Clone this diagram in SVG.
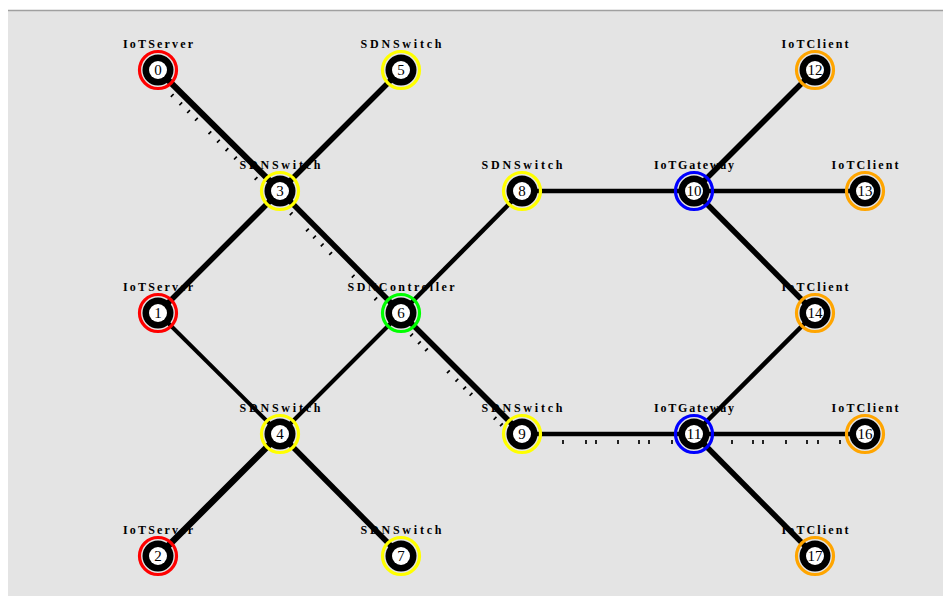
<svg xmlns="http://www.w3.org/2000/svg" width="943" height="596" viewBox="0 0 943 596">
<style>
.e{stroke:#000;fill:none;stroke-linecap:butt}
.t{stroke:#000;stroke-width:1.7;fill:none}
.ring{stroke-width:3.2}
.lbl{font-family:"Liberation Serif",serif;font-size:12px;font-weight:bold;fill:#000;text-anchor:middle}
.num{font-family:"Liberation Serif",serif;font-size:15px;fill:#000;text-anchor:middle}
</style>
<rect x="0" y="0" width="943" height="596" fill="#ffffff"/>
<rect x="8" y="10" width="935" height="586" fill="#e4e4e4"/>
<line x1="8" y1="10.5" x2="943" y2="10.5" stroke="#a0a0a0" stroke-width="1.5"/>
<g id="connectors">
<line class="e" x1="158" y1="70" x2="280" y2="191" stroke-width="6"/>
<line class="e" x1="401" y1="70" x2="280" y2="191" stroke-width="5.5"/>
<line class="e" x1="280" y1="191" x2="158" y2="313" stroke-width="5.5"/>
<line class="e" x1="280" y1="191" x2="401" y2="313" stroke-width="5.5"/>
<line class="e" x1="158" y1="313" x2="280" y2="434" stroke-width="4"/>
<line class="e" x1="401" y1="313" x2="280" y2="434" stroke-width="4"/>
<line class="e" x1="280" y1="434" x2="158" y2="556" stroke-width="6.5"/>
<line class="e" x1="280" y1="434" x2="401" y2="556" stroke-width="5.5"/>
<line class="e" x1="401" y1="313" x2="522" y2="191" stroke-width="4.5"/>
<line class="e" x1="401" y1="313" x2="522" y2="434" stroke-width="5.5"/>
<line class="e" x1="522" y1="191" x2="694" y2="191" stroke-width="4.5"/>
<line class="e" x1="694" y1="191" x2="815" y2="70" stroke-width="5.5"/>
<line class="e" x1="694" y1="191" x2="865" y2="191" stroke-width="4.5"/>
<line class="e" x1="694" y1="191" x2="815" y2="313" stroke-width="5.5"/>
<line class="e" x1="815" y1="313" x2="694" y2="434" stroke-width="4.5"/>
<line class="e" x1="522" y1="434" x2="694" y2="434" stroke-width="4.5"/>
<line class="e" x1="694" y1="434" x2="865" y2="434" stroke-width="4.5"/>
<line class="e" x1="694" y1="434" x2="815" y2="556" stroke-width="5.5"/>
<g transform="translate(158,70) rotate(44.76)"><path class="t" d="M28 6v4M40 6v4M51 6v4M62 6v4M81 6v4M93 6v4M105 6v4M117 6v4M146 6v4"/></g>
<g transform="translate(280,191) rotate(45.24)"><path class="t" d="M24 6v4M47 6v4M57 6v4M68 6v4M80 6v4M112 6v4M144 6v4"/></g>
<g transform="translate(401,313) rotate(45)"><path class="t" d="M23 6v4M34 6v4M44 6v4M75 6v4M87 6v4M98 6v4M107 6v4M141 6v4M150 6v4"/></g>
<g transform="translate(522,434)"><path class="t" d="M41 6v4M64 6v4M74 6v4M96 6v4M117 6v4M127 6v4M150 6v4"/></g>
<g transform="translate(694,434)"><path class="t" d="M38 6v4M59 6v4M69 6v4M92 6v4M113 6v4M124 6v4M146 6v4"/></g>
</g>
<defs>
<g id="core"><circle r="15.5" fill="#000"/><circle r="9" fill="#fff"/></g>
</defs>
<g id="n0" transform="translate(158,70)"><circle r="18.5" fill="none" stroke="#ff0000" class="ring"/><use href="#core"/><text class="num" y="5">0</text><text class="lbl" y="-22" textLength="70" lengthAdjust="spacing">IoTServer</text></g>
<g id="n1" transform="translate(158,313)"><circle r="18.5" fill="none" stroke="#ff0000" class="ring"/><use href="#core"/><text class="num" y="5">1</text><text class="lbl" y="-22" textLength="70" lengthAdjust="spacing">IoTServer</text></g>
<g id="n2" transform="translate(158,556)"><circle r="18.5" fill="none" stroke="#ff0000" class="ring"/><use href="#core"/><text class="num" y="5">2</text><text class="lbl" y="-22" textLength="70" lengthAdjust="spacing">IoTServer</text></g>
<g id="n3" transform="translate(280,191)"><circle r="18.5" fill="none" stroke="#ffff00" class="ring"/><use href="#core"/><text class="num" y="5">3</text><text class="lbl" y="-22" textLength="81" lengthAdjust="spacing">SDNSwitch</text></g>
<g id="n4" transform="translate(280,434)"><circle r="18.5" fill="none" stroke="#ffff00" class="ring"/><use href="#core"/><text class="num" y="5">4</text><text class="lbl" y="-22" textLength="81" lengthAdjust="spacing">SDNSwitch</text></g>
<g id="n5" transform="translate(401,70)"><circle r="18.5" fill="none" stroke="#ffff00" class="ring"/><use href="#core"/><text class="num" y="5">5</text><text class="lbl" y="-22" textLength="81" lengthAdjust="spacing">SDNSwitch</text></g>
<g id="n6" transform="translate(401,313)"><circle r="18.5" fill="none" stroke="#00ff00" class="ring"/><use href="#core"/><text class="num" y="5">6</text><text class="lbl" y="-22" textLength="107" lengthAdjust="spacing">SDNController</text></g>
<g id="n7" transform="translate(401,556)"><circle r="18.5" fill="none" stroke="#ffff00" class="ring"/><use href="#core"/><text class="num" y="5">7</text><text class="lbl" y="-22" textLength="81" lengthAdjust="spacing">SDNSwitch</text></g>
<g id="n8" transform="translate(522,191)"><circle r="18.5" fill="none" stroke="#ffff00" class="ring"/><use href="#core"/><text class="num" y="5">8</text><text class="lbl" y="-22" textLength="81" lengthAdjust="spacing">SDNSwitch</text></g>
<g id="n9" transform="translate(522,434)"><circle r="18.5" fill="none" stroke="#ffff00" class="ring"/><use href="#core"/><text class="num" y="5">9</text><text class="lbl" y="-22" textLength="81" lengthAdjust="spacing">SDNSwitch</text></g>
<g id="n10" transform="translate(694,191)"><circle r="18.5" fill="none" stroke="#0000ff" class="ring"/><use href="#core"/><text class="num" y="5" textLength="15" lengthAdjust="spacingAndGlyphs">10</text><text class="lbl" y="-22" textLength="80" lengthAdjust="spacing">IoTGateway</text></g>
<g id="n11" transform="translate(694,434)"><circle r="18.5" fill="none" stroke="#0000ff" class="ring"/><use href="#core"/><text class="num" y="5" textLength="15" lengthAdjust="spacingAndGlyphs">11</text><text class="lbl" y="-22" textLength="80" lengthAdjust="spacing">IoTGateway</text></g>
<g id="n12" transform="translate(815,70)"><circle r="18.5" fill="none" stroke="#ffa500" class="ring"/><use href="#core"/><text class="num" y="5" textLength="15" lengthAdjust="spacingAndGlyphs">12</text><text class="lbl" y="-22" textLength="67" lengthAdjust="spacing">IoTClient</text></g>
<g id="n13" transform="translate(865,191)"><circle r="18.5" fill="none" stroke="#ffa500" class="ring"/><use href="#core"/><text class="num" y="5" textLength="15" lengthAdjust="spacingAndGlyphs">13</text><text class="lbl" y="-22" textLength="67" lengthAdjust="spacing">IoTClient</text></g>
<g id="n14" transform="translate(815,313)"><circle r="18.5" fill="none" stroke="#ffa500" class="ring"/><use href="#core"/><text class="num" y="5" textLength="15" lengthAdjust="spacingAndGlyphs">14</text><text class="lbl" y="-22" textLength="67" lengthAdjust="spacing">IoTClient</text></g>
<g id="n16" transform="translate(865,434)"><circle r="18.5" fill="none" stroke="#ffa500" class="ring"/><use href="#core"/><text class="num" y="5" textLength="15" lengthAdjust="spacingAndGlyphs">16</text><text class="lbl" y="-22" textLength="67" lengthAdjust="spacing">IoTClient</text></g>
<g id="n17" transform="translate(815,556)"><circle r="18.5" fill="none" stroke="#ffa500" class="ring"/><use href="#core"/><text class="num" y="5" textLength="15" lengthAdjust="spacingAndGlyphs">17</text><text class="lbl" y="-22" textLength="67" lengthAdjust="spacing">IoTClient</text></g>
</svg>
